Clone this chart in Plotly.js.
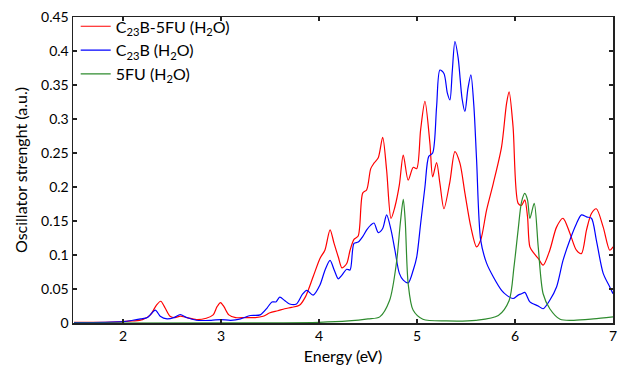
<!DOCTYPE html>
<html>
<head>
<meta charset="utf-8">
<script src="https://cdn.plot.ly/plotly-3.0.1.min.js"></script>
<style>html,body{margin:0;padding:0;background:#fff;}#chart{width:620px;height:367px;}</style>
</head>
<body>
<div id="chart"></div>
<script>
// C23B-5FU (H2O)
const energyRed = [1.5,1.8,2.0,2.1,2.2,2.28,2.34,2.385,2.43,2.48,2.53,2.585,2.65,2.75,2.85,2.92,2.96,2.995,3.03,3.08,3.15,3.25,3.35,3.43,3.5,3.58,3.65,3.72,3.8,3.86,3.94,4.01,4.06,4.113,4.154,4.197,4.235,4.283,4.317,4.357,4.40,4.446,4.487,4.528,4.561,4.605,4.65,4.69,4.735,4.775,4.82,4.86,4.91,4.962,4.997,5.037,5.081,5.132,5.16,5.20,5.234,5.275,5.336,5.387,5.438,5.489,5.55,5.608,5.65,5.71,5.778,5.863,5.914,5.94,5.98,6.032,6.067,6.10,6.128,6.152,6.196,6.237,6.287,6.355,6.424,6.49,6.56,6.627,6.678,6.73,6.78,6.83,6.90,6.967,7.0];
const strengthRed = [0.001,0.001,0.002,0.003,0.005,0.012,0.026,0.032,0.022,0.010,0.008,0.010,0.008,0.005,0.007,0.012,0.024,0.030,0.024,0.012,0.008,0.008,0.008,0.010,0.015,0.018,0.021,0.023,0.026,0.038,0.068,0.095,0.107,0.137,0.117,0.097,0.081,0.0875,0.107,0.123,0.128,0.191,0.196,0.227,0.235,0.243,0.273,0.225,0.154,0.171,0.203,0.247,0.210,0.229,0.227,0.284,0.326,0.264,0.215,0.236,0.205,0.168,0.208,0.252,0.235,0.191,0.141,0.112,0.122,0.166,0.205,0.259,0.323,0.340,0.289,0.176,0.173,0.181,0.156,0.112,0.102,0.095,0.085,0.107,0.141,0.154,0.132,0.107,0.102,0.137,0.161,0.168,0.141,0.107,0.112];

// C23B (H2O)
const energyBlue = [1.5,1.8,2.0,2.1,2.18,2.25,2.33,2.38,2.45,2.52,2.585,2.65,2.75,2.9,3.0,3.1,3.2,3.3,3.4,3.47,3.52,3.56,3.6,3.65,3.7,3.77,3.83,3.875,3.94,4.01,4.062,4.113,4.155,4.197,4.232,4.283,4.317,4.357,4.40,4.446,4.487,4.528,4.561,4.605,4.65,4.69,4.735,4.775,4.82,4.86,4.91,4.962,4.997,5.037,5.081,5.12,5.16,5.20,5.234,5.275,5.31,5.336,5.36,5.387,5.42,5.46,5.489,5.52,5.55,5.58,5.608,5.65,5.71,5.778,5.863,5.914,5.98,6.032,6.067,6.10,6.152,6.237,6.287,6.355,6.424,6.49,6.56,6.627,6.678,6.73,6.78,6.83,6.90,6.967,7.0];
const strengthBlue = [0.0005,0.001,0.002,0.004,0.006,0.008,0.019,0.010,0.006,0.008,0.0125,0.008,0.004,0.004,0.005,0.004,0.006,0.011,0.012,0.022,0.031,0.031,0.038,0.033,0.028,0.028,0.042,0.048,0.041,0.056,0.078,0.092,0.078,0.065,0.070,0.079,0.078,0.117,0.119,0.127,0.137,0.144,0.147,0.133,0.139,0.159,0.137,0.107,0.073,0.063,0.059,0.078,0.097,0.146,0.200,0.245,0.250,0.318,0.372,0.367,0.338,0.328,0.37,0.414,0.39,0.33,0.311,0.345,0.365,0.32,0.240,0.122,0.088,0.068,0.048,0.041,0.036,0.041,0.043,0.045,0.031,0.025,0.021,0.0335,0.053,0.092,0.122,0.146,0.159,0.156,0.154,0.122,0.073,0.053,0.043];

// 5FU (H2O)
const energyGreen = [1.5,3.5,4.0,4.3,4.5,4.62,4.72,4.79,4.83,4.86,4.88,4.91,4.96,5.06,5.3,5.6,5.83,5.94,5.99,6.032,6.067,6.10,6.128,6.152,6.196,6.237,6.287,6.355,6.46,6.6,6.8,7.0];
const strengthGreen = [0,0.0003,0.001,0.003,0.006,0.009,0.033,0.088,0.147,0.182,0.150,0.058,0.019,0.0055,0.003,0.004,0.011,0.033,0.083,0.137,0.178,0.1905,0.181,0.154,0.176,0.112,0.043,0.021,0.0055,0.004,0.006,0.009];

const seriesNames = ['C<sub>23</sub>B-5FU (H<sub>2</sub>O)','C<sub>23</sub>B (H<sub>2</sub>O)','5FU (H<sub>2</sub>O)'];
const xTickVals = [2,3,4,5,6,7];
const yTickVals = [0,0.05,0.1,0.15,0.2,0.25,0.3,0.35,0.4,0.45];

const FONT = 'Lato, "Open Sans", sans-serif';
const mk = (x, y, name, color) => ({
  x: x, y: y, name: name, type: 'scatter', mode: 'lines',
  line: {color: color, width: 1.2, shape: 'spline', smoothing: 0.8}
});

const data = [
  mk(energyRed, strengthRed, seriesNames[0], '#ff0000'),
  mk(energyBlue, strengthBlue, seriesNames[1], '#0000ff'),
  mk(energyGreen, strengthGreen, seriesNames[2], '#2e8b2e')
];

const axisCommon = {
  showgrid: false, zeroline: false, showline: true, linecolor: '#222', linewidth: 1.5,
  mirror: 'ticks', ticks: 'inside', ticklen: 4, tickwidth: 1.2, tickcolor: '#222',
  tickfont: {family: FONT, size: 14, color: '#000'}
};

const layout = {
  width: 620, height: 367,
  margin: {l: 73, r: 7, t: 17, b: 44, pad: 0},
  paper_bgcolor: '#fff', plot_bgcolor: '#fff',
  font: {family: FONT, color: '#000'},
  showlegend: true,
  legend: {x: 0.005, y: 1.025, xanchor: 'left', yanchor: 'top', bgcolor: 'rgba(0,0,0,0)',
           font: {family: FONT, size: 16, color: '#000'}, tracegroupgap: 0, itemwidth: 30},
  xaxis: Object.assign({}, axisCommon, {
    range: [1.49, 7], tickvals: xTickVals,
    title: {text: 'Energy (eV)', font: {family: FONT, size: 16, color: '#000'}, standoff: 7}
  }),
  yaxis: Object.assign({}, axisCommon, {
    range: [0, 0.45], tickvals: yTickVals,
    title: {text: 'Oscillator strenght (a.u.)', font: {family: FONT, size: 16, color: '#000'}, standoff: 9}
  })
};

Plotly.newPlot('chart', data, layout, {displayModeBar: false, staticPlot: true});
</script>
</body>
</html>
